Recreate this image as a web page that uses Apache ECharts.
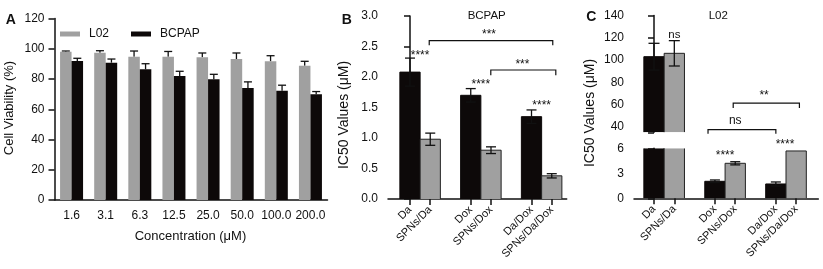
<!DOCTYPE html>
<html>
<head>
<meta charset="utf-8">
<script src="https://cdn.jsdelivr.net/npm/echarts@6/dist/echarts.min.js"></script>
<style>
html, body { margin: 0; padding: 0; background: #fff; }
#chart { width: 823px; height: 269px; }
</style>
</head>
<body>
<div id="chart"></div>
<script>
// panel A - cell viability
var concLabels = ['1.6', '3.1', '6.3', '12.5', '25.0', '50.0', '100.0', '200.0'];
var viabL02 = [98.0, 97.4, 94.7, 94.7, 94.3, 93.2, 91.7, 88.8];
var viabL02Err = [0.5, 1.3, 3.8, 3.5, 2.9, 4.0, 3.7, 2.9];
var viabBCPAP = [91.9, 90.8, 86.4, 82.0, 79.9, 74.1, 72.2, 70.0];
var viabBCPAPErr = [1.8, 2.4, 3.7, 3.1, 3.2, 4.0, 3.7, 1.7];

// panels B and C - IC50 (black = free drug, gray = SPNs)
var groups = ['Da', 'SPNs/Da', 'Dox', 'SPNs/Dox', 'Da/Dox', 'SPNs/Da/Dox'];
var ic50BCPAP = [2.08, 0.98, 1.70, 0.80, 1.35, 0.38];
var ic50BCPAPErr = [0.23, 0.10, 0.11, 0.055, 0.11, 0.035];
var ic50L02 = [103, 106, 2.04, 4.2, 1.72, 5.68];
var ic50L02Err = [12, 11.4, 0.16, 0.19, 0.24, 0];

// significance marks: [x from, x to, bar height, leg end, label x, label y]
var bcpapBrackets = [[0.95, 7.05, 2.595, 2.52, 3.9, 2.73], [3.99, 7.2, 2.115, 2.03, 5.55, 2.24]];
var bcpapBracketText = ['***', '***'];
var bcpapStars = [[0.5, 2.39], [3.5, 1.92], [6.5, 1.57]];
var bcpapStarText = ['****', '****', '****'];
var l02Brackets = [[3.9, 7.16, 61.3, 56.8, 5.42, 70.3], [2.66, 6.0, 37.4, 33.8, 4.0, 45.1]];
var l02BracketText = ['**', 'ns'];
var l02TopMarks = [[1, 123]];
var l02TopText = ['ns'];
var l02LowMarks = [[3.5, 5.4], [6.45, 6.72]];
var l02LowText = ['****', '****'];

var FONT = '"Liberation Sans", Arial, sans-serif';
var BLACK = '#0d0909';
var GRAY = '#a0a0a0';
var INK = '#111';

// two bars per pair, one empty slot between pairs
function slot(i) { return i + Math.floor(i / 2); }

function ic50Data(vals, errs) {
    return vals.map(function (v, i) { return [slot(i), v, errs[i]]; });
}

function barRender(lo, hi) {
    return function (params, api) {
        var v = api.value(1);
        if (v <= lo) return;
        var x = api.value(0);
        var cs = params.coordSys;
        var cut = v > hi;
        var p0 = api.coord([x - 0.5, Math.min(v, hi)]);
        var p1 = api.coord([x + 0.5, lo]);
        // keep every bar inside its own grid
        var yTop = Math.max(p0[1], cs.y);
        var yBot = Math.min(p1[1], cs.y + cs.height);
        if (yBot <= yTop) return;
        var dark = params.dataIndex % 2 === 0;
        var edge = dark ? BLACK : '#222';
        var kids = [
            { type: 'rect', shape: { x: p0[0], y: yTop, width: p1[0] - p0[0], height: yBot - yTop }, style: { fill: dark ? BLACK : GRAY } }
        ];
        // outline only the sides that are not cut by the axis break
        if (cut) {
            kids.push({ type: 'line', shape: { x1: p0[0], y1: yTop, x2: p0[0], y2: yBot }, style: { stroke: edge, lineWidth: 1 } });
            kids.push({ type: 'line', shape: { x1: p1[0], y1: yTop, x2: p1[0], y2: yBot }, style: { stroke: edge, lineWidth: 1 } });
        } else {
            kids.push({ type: 'polyline', shape: { points: [[p0[0], yBot], [p0[0], yTop], [p1[0], yTop], [p1[0], yBot]] },
                style: { stroke: edge, lineWidth: 1, fill: null } });
        }
        return { type: 'group', children: kids };
    };
}

function errRender(lo, hi, cap, upOnly, dx) {
    return function (params, api) {
        var x = api.value(0), v = api.value(1), e = api.value(2);
        if (!e || v > hi || v < lo) return;
        var top = api.coord([x, v + e]);
        var bot = api.coord([x, upOnly ? v : v - e]);
        var cx = top[0] + dx;
        var kids = [
            { type: 'line', shape: { x1: cx, y1: top[1], x2: cx, y2: bot[1] }, style: { stroke: INK, lineWidth: 1.3 } },
            { type: 'line', shape: { x1: cx - cap, y1: top[1], x2: cx + cap, y2: top[1] }, style: { stroke: INK, lineWidth: 1.3 } }
        ];
        if (!upOnly) {
            kids.push({ type: 'line', shape: { x1: cx - cap, y1: bot[1], x2: cx + cap, y2: bot[1] }, style: { stroke: INK, lineWidth: 1.3 } });
        }
        return { type: 'group', children: kids };
    };
}

function textEl(x, y, txt, size) {
    // asterisks sit high in the line box, push them down a bit
    var dy = txt.charAt(0) === '*' ? 2.5 : 0;
    return {
        type: 'text', x: x, y: y + dy,
        style: { text: txt, fill: INK, fontSize: size, fontFamily: FONT, align: 'center', verticalAlign: 'middle' }
    };
}

function bracketRender(texts) {
    return function (params, api) {
        var a = api.coord([api.value(0), api.value(3)]);
        var b = api.coord([api.value(0), api.value(2)]);
        var c = api.coord([api.value(1), api.value(2)]);
        var d = api.coord([api.value(1), api.value(3)]);
        var l = api.coord([api.value(4), api.value(5)]);
        return {
            type: 'group',
            children: [
                { type: 'polyline', shape: { points: [a, b, c, d] }, style: { stroke: INK, lineWidth: 1.2, fill: null } },
                textEl(l[0], l[1], texts[params.dataIndex], 12)
            ]
        };
    };
}

function markRender(texts) {
    return function (params, api) {
        var p = api.coord([api.value(0), api.value(1)]);
        var t = texts[params.dataIndex];
        return textEl(p[0], p[1], t, t === 'ns' ? 11.5 : 12);
    };
}

function lineStyle() { return { color: INK, width: 1.5 }; }
function label(extra) {
    var l = { color: INK, fontSize: 12, fontFamily: FONT, margin: 10 };
    for (var k in extra) l[k] = extra[k];
    return l;
}

function ic50XAxis(grid, min, max, show) {
    var ticks = groups.map(function (g, i) { return slot(i); });
    return {
        type: 'value', gridIndex: grid, min: min, max: max, show: show,
        splitLine: { show: false },
        axisLine: { show: show, lineStyle: lineStyle() },
        axisTick: { show: show, length: 6, lineStyle: lineStyle(), customValues: ticks },
        axisLabel: {
            show: show, color: INK, fontSize: 11, fontFamily: FONT, margin: 9, rotate: 45,
            customValues: ticks,
            formatter: function (v) { return groups[ticks.indexOf(Math.round(v))] || ''; }
        }
    };
}

function valueYAxis(grid, min, max, extra) {
    var y = {
        type: 'value', gridIndex: grid, min: min, max: max, splitLine: { show: false },
        axisLine: { show: true, lineStyle: lineStyle() },
        axisTick: { show: true, length: 6, lineStyle: lineStyle() },
        axisLabel: label({})
    };
    for (var k in extra) {
        if (y[k] && typeof y[k] === 'object') { for (var j in extra[k]) y[k][j] = extra[k][j]; }
        else y[k] = extra[k];
    }
    return y;
}

function graphicText(x, y, txt, size, extra) {
    var el = { type: 'text', x: x, y: y,
        style: { text: txt, fontSize: size, fontFamily: FONT, fill: INK, align: 'center', verticalAlign: 'middle' } };
    for (var k in extra) {
        if (k === 'fontWeight') el.style.fontWeight = extra[k]; else el[k] = extra[k];
    }
    return el;
}

// axis / grid indices: 0 = C upper, 1 = C lower, 2 = A, 3 = B
var C_UP = 0, C_LOW = 1, PA = 2, PB = 3;

var chart = echarts.init(document.getElementById('chart'), null, { renderer: 'canvas' });

var option = {
    animation: false,
    backgroundColor: '#fff',
    textStyle: { fontFamily: FONT },
    legend: {
        data: ['L02', 'BCPAP'], left: 55, top: 23, icon: 'rect',
        itemWidth: 20, itemHeight: 5, itemGap: 22, selectedMode: false,
        textStyle: { fontSize: 12, fontFamily: FONT, color: INK, padding: [0, 0, 0, 4] }
    },
    grid: [
        { left: 634, top: 15.5, width: 184.3, height: 116.8, outerBoundsMode: 'none' },
        { left: 634, top: 148.3, width: 184.3, height: 50, outerBoundsMode: 'none' },
        { left: 54.5, top: 18.5, width: 273, height: 181.5, outerBoundsMode: 'none' },
        { left: 388, top: 16, width: 178.7, height: 183, outerBoundsMode: 'none' }
    ],
    xAxis: [
        ic50XAxis(C_UP, -0.985, 8.09, false),
        ic50XAxis(C_LOW, -0.985, 8.09, true),
        {
            type: 'category', gridIndex: PA, data: concLabels,
            axisLine: { lineStyle: lineStyle() },
            axisTick: { alignWithLabel: true, length: 6, lineStyle: lineStyle() },
            axisLabel: label({ interval: 0 })
        },
        ic50XAxis(PB, -1.086, 7.738, true)
    ],
    yAxis: [
        valueYAxis(C_UP, 35, 140, {
            axisTick: { customValues: [35, 40, 60, 80, 100, 120, 140] },
            axisLabel: { showMinLabel: true, hideOverlap: false, customValues: [40, 60, 80, 100, 120, 140] }
        }),
        valueYAxis(C_LOW, 0, 6, { interval: 3 }),
        valueYAxis(PA, 0, 120, { interval: 20 }),
        valueYAxis(PB, 0, 3, { interval: 0.5, axisLabel: { formatter: function (v) { return v.toFixed(1); } } })
    ],
    graphic: [
        graphicText(10.8, 20, 'A', 14, { fontWeight: 'bold' }),
        graphicText(346.7, 20, 'B', 14, { fontWeight: 'bold' }),
        graphicText(591.3, 17.2, 'C', 14, { fontWeight: 'bold' }),
        graphicText(486.7, 15.5, 'BCPAP', 11.5),
        graphicText(718.3, 15.5, 'L02', 11.5),
        graphicText(190.5, 236, 'Concentration (μM)', 13),
        graphicText(9.2, 108, 'Cell Viability (%)', 13, { rotation: Math.PI / 2 }),
        graphicText(344.2, 115, 'IC50 Values (μM)', 14, { rotation: Math.PI / 2 }),
        graphicText(590, 113, 'IC50 Values (μM)', 14, { rotation: Math.PI / 2 })
    ],
    series: [
        { type: 'custom', xAxisIndex: C_UP, yAxisIndex: C_UP, clip: true, renderItem: barRender(35, 140), data: ic50Data(ic50L02, ic50L02Err) },
        { type: 'custom', xAxisIndex: C_UP, yAxisIndex: C_UP, renderItem: errRender(35, 140, 5.5, false, 0), data: ic50Data(ic50L02, ic50L02Err) },
        { type: 'custom', xAxisIndex: C_UP, yAxisIndex: C_UP, renderItem: bracketRender(l02BracketText), data: l02Brackets },
        { type: 'custom', xAxisIndex: C_UP, yAxisIndex: C_UP, renderItem: markRender(l02TopText), data: l02TopMarks },
        { type: 'custom', xAxisIndex: C_LOW, yAxisIndex: C_LOW, clip: true, renderItem: barRender(0, 6), data: ic50Data(ic50L02, ic50L02Err) },
        { type: 'custom', xAxisIndex: C_LOW, yAxisIndex: C_LOW, renderItem: errRender(0, 6, 5, false, 0), data: ic50Data(ic50L02, ic50L02Err) },
        { type: 'custom', xAxisIndex: C_LOW, yAxisIndex: C_LOW, renderItem: markRender(l02LowText), data: l02LowMarks },

        { name: 'L02', type: 'bar', xAxisIndex: PA, yAxisIndex: PA, data: viabL02, barWidth: 11.5, barGap: '0%', itemStyle: { color: GRAY } },
        { name: 'BCPAP', type: 'bar', xAxisIndex: PA, yAxisIndex: PA, data: viabBCPAP, barWidth: 11.5, barGap: '0%', itemStyle: { color: BLACK } },
        { type: 'custom', xAxisIndex: PA, yAxisIndex: PA, renderItem: errRender(0, 120, 4, true, -5.75),
          data: viabL02.map(function (v, i) { return [i, v, viabL02Err[i]]; }) },
        { type: 'custom', xAxisIndex: PA, yAxisIndex: PA, renderItem: errRender(0, 120, 4, true, 5.75),
          data: viabBCPAP.map(function (v, i) { return [i, v, viabBCPAPErr[i]]; }) },

        { type: 'custom', xAxisIndex: PB, yAxisIndex: PB, renderItem: barRender(0, 3), data: ic50Data(ic50BCPAP, ic50BCPAPErr) },
        { type: 'custom', xAxisIndex: PB, yAxisIndex: PB, renderItem: errRender(0, 3, 5, false, 0), data: ic50Data(ic50BCPAP, ic50BCPAPErr) },
        { type: 'custom', xAxisIndex: PB, yAxisIndex: PB, renderItem: bracketRender(bcpapBracketText), data: bcpapBrackets },
        { type: 'custom', xAxisIndex: PB, yAxisIndex: PB, renderItem: markRender(bcpapStarText), data: bcpapStars }
    ]
};

chart.setOption(option);
</script>
</body>
</html>
